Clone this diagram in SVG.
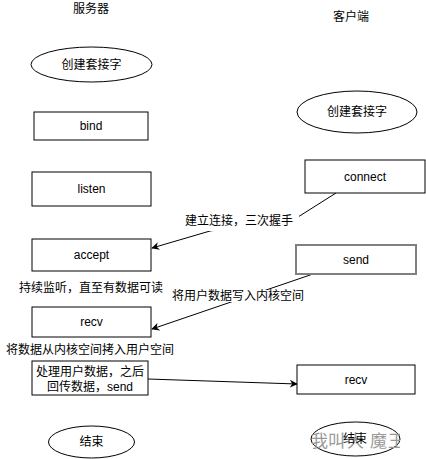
<svg xmlns="http://www.w3.org/2000/svg" width="426" height="459" viewBox="0 0 426 459">
<defs>
<style>
.n{fill:#fff;stroke:#000;stroke-width:1}
.t{font-family:"Liberation Sans","Noto Sans CJK SC",sans-serif;font-size:12px;fill:#000;text-anchor:middle}
.e{fill:none;stroke:#000;stroke-width:1}
.lb{fill:#fff;stroke:none}
</style>
<marker id="arr" viewBox="0 0 10 10" refX="9" refY="5" markerWidth="8" markerHeight="8" markerUnits="userSpaceOnUse" orient="auto">
<path d="M0,0 L10,5 L0,10 L3,5 Z" fill="#000"/>
</marker>
<clipPath id="wm"><rect x="300" y="420" width="100" height="39"/></clipPath>
</defs>
<rect width="426" height="459" fill="#fff"/>
<text class="t" x="91" y="13">服务器</text>
<text class="t" x="351" y="21">客户端</text>
<g id="connectors">
<path class="e" d="M336,193 L298,217 L210,231 L152,248" marker-end="url(#arr)"/>
<rect class="lb" x="184" y="212" width="115" height="19"/>
<text class="t" x="239" y="225">建立连接，三次握手</text>
<path class="e" d="M313,274 L152,329" marker-end="url(#arr)"/>
<rect class="lb" x="176" y="290" width="125" height="12"/>
<text class="t" x="238" y="300">将用户数据写入内核空间</text>
<path class="e" d="M148,379 L297,384" stroke="#333" marker-end="url(#arr)"/>
</g>
<g id="s-create"><ellipse class="n" cx="91.5" cy="64.5" rx="60.5" ry="17.5"/><text class="t" x="91.5" y="69">创建套接字</text></g>
<g id="s-bind"><rect class="n" x="34" y="112" width="114" height="28"/><text class="t" x="91" y="130">bind</text></g>
<g id="s-listen"><rect class="n" x="32" y="172" width="119" height="34"/><text class="t" x="91.5" y="193">listen</text></g>
<g id="s-accept"><rect class="n" x="32" y="239" width="119" height="32"/><text class="t" x="91.5" y="259">accept</text></g>
<text class="t" x="91" y="292">持续监听，直至有数据可读</text>
<g id="s-recv"><rect class="n" x="32" y="307" width="119" height="30"/><text class="t" x="91.5" y="326">recv</text></g>
<text class="t" x="90" y="354">将数据从内核空间拷入用户空间</text>
<g id="s-process"><rect class="n" x="32" y="361" width="116" height="34"/><text class="t" x="90" y="376">处理用户数据，之后</text><text class="t" x="90" y="391">回传数据，send</text></g>
<g id="s-end"><ellipse class="n" cx="91.5" cy="442" rx="43" ry="16"/><text class="t" x="91.5" y="446">结束</text></g>
<g id="c-create"><ellipse class="n" cx="357" cy="112" rx="60" ry="21"/><text class="t" x="357" y="116">创建套接字</text></g>
<g id="c-connect"><rect class="n" x="305" y="160" width="120" height="33"/><text class="t" x="365" y="181">connect</text></g>
<g id="c-send"><rect class="n" x="296" y="245" width="120" height="29" stroke="#808080" style="stroke:#808080;stroke-width:2"/><text class="t" x="356" y="264">send</text></g>
<g id="c-recv"><rect class="n" x="297" y="365" width="118" height="29"/><text class="t" x="356" y="384">recv</text></g>
<g id="c-end"><ellipse class="n" cx="355.5" cy="439" rx="44.5" ry="17"/>
<text x="312" y="447" clip-path="url(#wm)" style="font-family:'Noto Sans CJK SC',sans-serif;font-size:17px;fill:#999"><tspan x="311">我</tspan><tspan x="328">叫</tspan><tspan x="347">大</tspan><tspan x="370">魔</tspan><tspan x="388">王</tspan></text>
<text class="t" x="355" y="443">结束</text></g>
</svg>
